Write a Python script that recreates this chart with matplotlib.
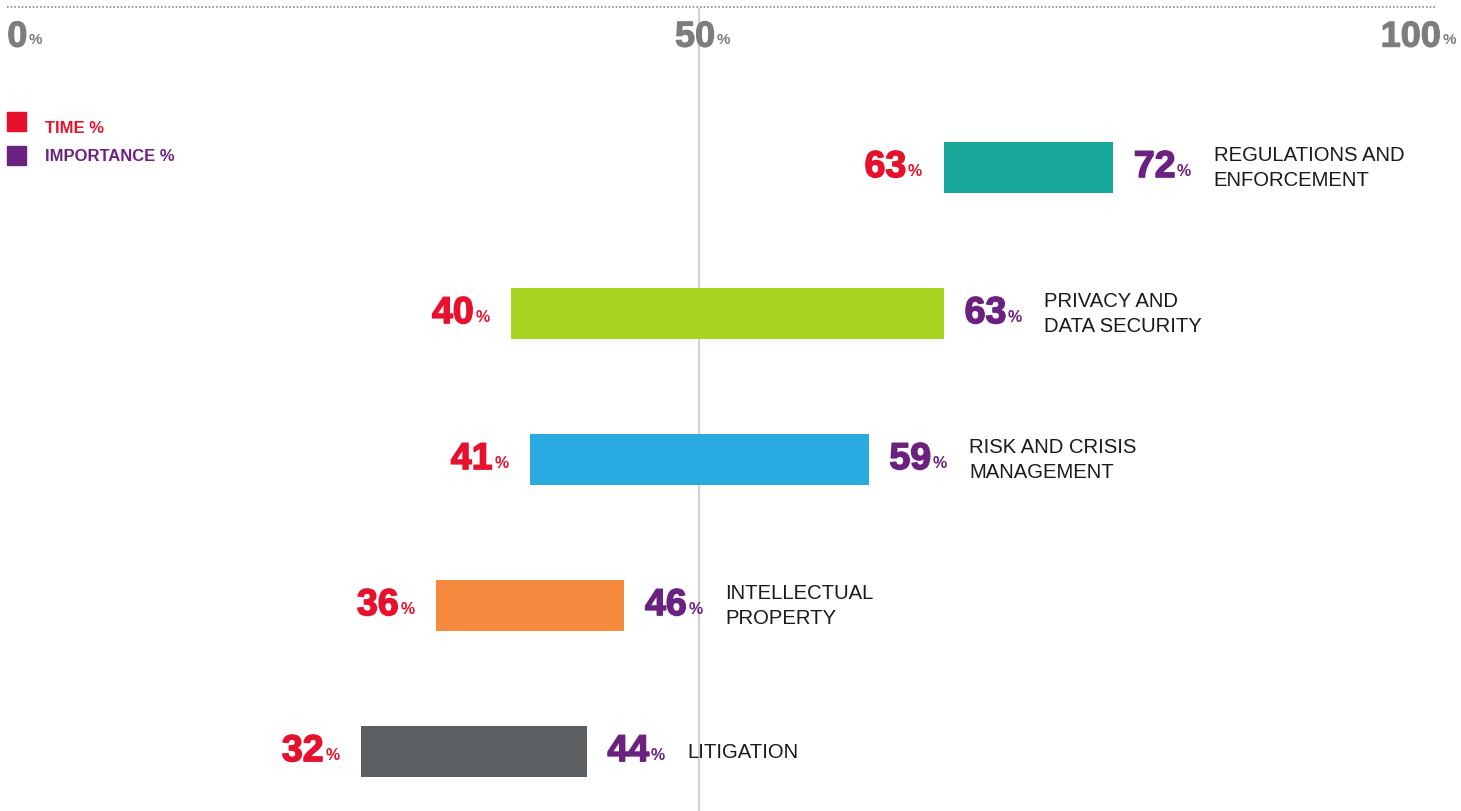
import matplotlib
matplotlib.use("Agg")
import matplotlib.pyplot as plt
import matplotlib.patheffects as pe
from matplotlib import font_manager

# Survey data: share of time spent vs. perceived importance, per topic
categories = [
    "REGULATIONS AND\nENFORCEMENT",
    "PRIVACY AND\nDATA SECURITY",
    "RISK AND CRISIS\nMANAGEMENT",
    "INTELLECTUAL\nPROPERTY",
    "LITIGATION",
]
time_pct = [63, 40, 41, 36, 32]
importance_pct = [72, 63, 59, 46, 44]
bar_colors = ["#19a99b", "#a9d321", "#29abe2", "#f58a3f", "#5b5f61"]
scale_labels = ["0", "50", "100"]

RED = "#e8112d"
PURPLE = "#6b2180"
GREY = "#7d7d7d"

names = {f.name for f in font_manager.fontManager.ttflist}
NUM_FONT = "Liberation Sans Narrow" if "Liberation Sans Narrow" in names else "Liberation Sans"
TXT_FONT = "Liberation Sans"


def heavy(col, w=1.1):
    return [pe.withStroke(linewidth=w, foreground=col)]


fig = plt.figure(figsize=(14.61, 8.12), dpi=100)
ax = fig.add_axes([0, 0, 1, 1])
ax.set_xlim(12.8, 90.51)
ax.set_ylim(4.41, -1.151)
ax.axis("off")

# center reference line at 50%
ax.plot([50, 50], [-1.08, 4.41], color="#d2d2d2", lw=1.6, zorder=0)

# dotted rule across the top
ax.plot([0.005, 0.983], [0.99, 0.99], transform=ax.transAxes,
        color="#8a8a8a", lw=1.2, ls=(0, (1, 1.2)))

# scale labels along the top
for lab, xf in zip(scale_labels, [0.005, 0.462, 0.945]):
    t = ax.text(xf, 0.953, lab, transform=ax.transAxes, ha="left", va="center",
                fontsize=26, fontweight="bold", color=GREY, family=NUM_FONT,
                path_effects=heavy(GREY, 0.8), zorder=3)
    ax.annotate("%", xy=(1.0, 0.24), xycoords=t, xytext=(1, 0),
                textcoords="offset points", ha="left", va="bottom",
                fontsize=11, fontweight="bold", color=GREY, family=NUM_FONT)

# legend
for yf, ty, col, lab in [(0.849, 0.842, RED, "TIME %"),
                         (0.807, 0.807, PURPLE, "IMPORTANCE %")]:
    ax.add_patch(plt.Rectangle((0.005, yf - 0.0117), 0.013, 0.0234,
                               transform=ax.transAxes, color=col))
    ax.text(0.031, ty, lab, transform=ax.transAxes, ha="left", va="center",
            fontsize=12, fontweight="bold", color=col, family=TXT_FONT)

ypos = list(range(len(categories)))
ax.barh(ypos, [i - t for t, i in zip(time_pct, importance_pct)], left=time_pct,
        height=0.35, color=bar_colors, zorder=2)

for y, t, imp, cat in zip(ypos, time_pct, importance_pct, categories):
    # time value on the left
    n1 = ax.annotate(f"{t}", xy=(t, y), xytext=(-27, 0), textcoords="offset points",
                     ha="right", va="center", fontsize=27, fontweight="bold",
                     color=RED, family=NUM_FONT, path_effects=heavy(RED))
    ax.annotate("%", xy=(1.0, 0.2), xycoords=n1, xytext=(1.2, 0),
                textcoords="offset points", ha="left", va="bottom",
                fontsize=11.5, fontweight="bold", color=RED, family=NUM_FONT)
    # importance value on the right
    n2 = ax.annotate(f"{imp}", xy=(imp, y), xytext=(15, 0), textcoords="offset points",
                     ha="left", va="center", fontsize=27, fontweight="bold",
                     color=PURPLE, family=NUM_FONT, path_effects=heavy(PURPLE))
    ax.annotate("%", xy=(1.0, 0.2), xycoords=n2, xytext=(1.2, 0),
                textcoords="offset points", ha="left", va="bottom",
                fontsize=11.5, fontweight="bold", color=PURPLE, family=NUM_FONT)
    # category name
    ax.annotate(cat, xy=(imp, y), xytext=(72.5, 0), textcoords="offset points",
                ha="left", va="center", fontsize=14.6, color="#1a1a1a",
                family=TXT_FONT, linespacing=1.42)

fig.savefig("out.png", dpi=100, facecolor="white")
